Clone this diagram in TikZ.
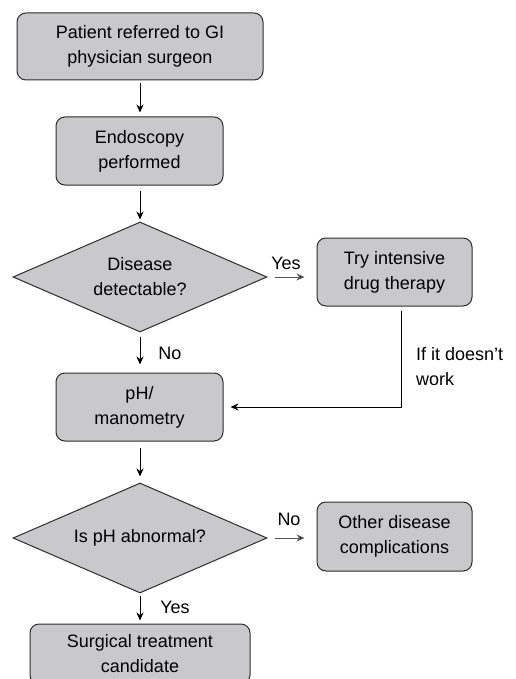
\documentclass[tikz,border=0pt]{standalone}
\usepackage{fontspec}
\setmainfont{Liberation Sans}
\usetikzlibrary{shapes.geometric,arrows.meta}
\definecolor{boxfill}{RGB}{201,201,203}
\definecolor{boxline}{RGB}{45,45,45}
\begin{document}
\begin{tikzpicture}[x=1pt,y=-1pt,
  every node/.style={font=\fontsize{18}{25}\selectfont, align=center, inner sep=0pt},
  procbox/.style={draw=boxline, fill=boxfill, line width=1pt, rounded corners=9pt},
  decision/.style={draw=boxline, fill=boxfill, line width=1pt, diamond, aspect=2.3, minimum width=254pt, minimum height=110pt},
  flow/.style={line width=1pt, -{Stealth[length=8pt,width=7pt]}},
  sideflow/.style={line width=1pt, draw=black!65, -{Stealth[length=8pt,width=7pt,fill=black]}},
  lbl/.style={font=\fontsize{18}{25}\selectfont}]
\useasboundingbox (0,0) rectangle (515,679);
\begin{scope}
\clip (0,0) rectangle (515,679);
\node[procbox, minimum width=246pt, minimum height=67pt] (b1) at (140,46.5) {Patient referred to GI\\physician surgeon};
\node[procbox, minimum width=167pt, minimum height=68pt] (b2) at (139.5,151) {Endoscopy\\performed};
\node[decision] (d1) at (140,277) {Disease\\detectable?};
\node[procbox, minimum width=155pt, minimum height=68pt] (try) at (394.5,272) {Try intensive\\drug therapy};
\node[procbox, minimum width=167pt, minimum height=68pt] (ph) at (139.5,407) {pH/\\manometry};
\node[decision] (d2) at (140,538) {Is pH abnormal?};
\node[procbox, minimum width=155pt, minimum height=69pt] (oth) at (394.5,536.5) {Other disease\\complications};
\node[procbox, minimum width=220pt, minimum height=60pt] (surg) at (140,654) {Surgical treatment\\candidate};

\draw[flow, shorten <=3pt, shorten >=4pt] (b1.south -| 140,0) -- (b2.north -| 140,0);
\draw[flow, shorten <=5pt, shorten >=2pt] (b2.south -| 140,0) -- (d1.north);
\draw[sideflow, shorten <=7pt, shorten >=12pt] (d1.east) -- (try.west |- d1.east);
\draw[flow, shorten <=4pt, shorten >=8pt] (d1.south) -- (ph.north -| 140,0);
\draw[flow, shorten <=4pt, shorten >=7pt] ([xshift=6.5pt]try.south) |- (ph.east);
\draw[flow, shorten <=6pt, shorten >=6pt] (ph.south -| 140,0) -- (d2.north);
\draw[sideflow, shorten <=7pt, shorten >=12pt] (d2.east) -- (oth.west |- d2.east);
\draw[flow, shorten <=2pt, shorten >=3pt] (d2.south) -- (surg.north -| 140,0);

\node[lbl] (yes1) at (286,263) {Yes};
\node[lbl] (no1) at (170,353) {No};
\node[lbl, align=left, anchor=west] (ifnot) at (416,366.5) {If it doesn’t\\work};
\node[lbl] (no2) at (289,519) {No};
\node[lbl] (yes2) at (175,607) {Yes};
\end{scope}
\end{tikzpicture}
\end{document}
